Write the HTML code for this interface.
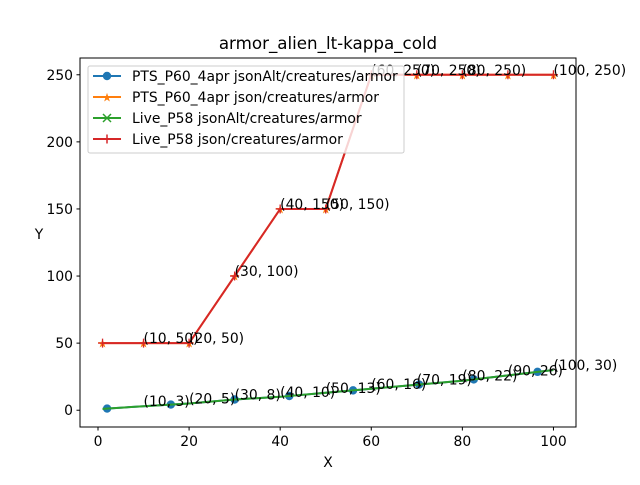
<!DOCTYPE html>
<html><head><meta charset="utf-8"><style>
body{margin:0;background:#fff;}
svg text{font-family:"DejaVu Sans","Liberation Sans",sans-serif;}
</style></head><body>
<svg id="c" width="640" height="480" xmlns="http://www.w3.org/2000/svg">
<rect width="640" height="480" fill="#fff"/>
<text x="328" y="49" font-size="16.7" text-anchor="middle">armor_alien_lt-kappa_cold</text>
<g id="plot"></g>
<rect x="80" y="58" width="496" height="369" fill="none" stroke="#000" stroke-width="1"/>
<text x="328" y="467" font-size="13.9" text-anchor="middle">X</text>
<text x="39" y="239" font-size="13.9" text-anchor="middle">Y</text>
<g>
<rect x="88" y="66" width="316" height="87" rx="2" fill="#fff" fill-opacity="0.8" stroke="#ccc"/>
<g><line x1="93" y1="76" x2="121" y2="76" stroke="#1f77b4" stroke-width="2"/><circle cx="107" cy="76" r="4.2" fill="#1f77b4"/><text x="132" y="81" font-size="13.9">PTS_P60_4apr jsonAlt/creatures/armor</text></g>
<g><line x1="93" y1="97" x2="121" y2="97" stroke="#ff7f0e" stroke-width="2"/><text x="107" y="101.5" font-size="12" fill="#ff7f0e" text-anchor="middle">★</text><text x="132" y="102" font-size="13.9">PTS_P60_4apr json/creatures/armor</text></g>
<g><line x1="93" y1="118" x2="121" y2="118" stroke="#2ca02c" stroke-width="2"/><path d="M103 114l8 8M111 114l-8 8" stroke="#2ca02c" stroke-width="1.5"/><text x="132" y="123" font-size="13.9">Live_P58 jsonAlt/creatures/armor</text></g>
<g><line x1="93" y1="139" x2="121" y2="139" stroke="#d62728" stroke-width="2"/><path d="M107 134.5v9M102.5 139h9" stroke="#d62728" stroke-width="1.5"/><text x="132" y="144" font-size="13.9">Live_P58 json/creatures/armor</text></g>
</g>
</svg>
<script>
const lowX=[1,10,20,30,40,50,60,70,80,90,100];
const lowY=[1,3,5,8,10,13,16,19,22,26,30];
const lowMarkX=[2,16,30,42,56,70.5,82.5,96.5];
const highX=[1,10,20,30,40,50,60,70,80,90,100];
const highY=[50,50,50,100,150,150,250,250,250,250,250];
const highLabelX=[10,20,30,40,50,60,70,80,100];
const xTicks=[0,20,40,60,80,100];
const yTicks=[0,50,100,150,200,250];
const X0=80,W=496,Y0=58,H=369,xmin=-3.95,xmax=104.95,ymin=-12.5,ymax=262.5;
const sx=v=>X0+(v-xmin)/(xmax-xmin)*W;
const sy=v=>Y0+H-(v-ymin)/(ymax-ymin)*H;
const NS="http://www.w3.org/2000/svg";
const svg=document.getElementById('c'),g=document.getElementById('plot');
function mk(t,a,p){const e=document.createElementNS(NS,t);for(const k in a)e.setAttribute(k,a[k]);(p||g).appendChild(e);return e;}
function interp(xs,ys,x){for(let i=0;i<xs.length-1;i++){if(x>=xs[i]&&x<=xs[i+1])return ys[i]+(ys[i+1]-ys[i])*(x-xs[i])/(xs[i+1]-xs[i]);}return ys[ys.length-1];}
xTicks.forEach(v=>{
 const l=mk('line',{x1:sx(v),x2:sx(v),y1:427,y2:430.5,stroke:'#000'},svg);
 
 
 const t=mk('text',{x:sx(v),y:446,'font-size':13.9,'text-anchor':'middle'},svg);t.textContent=v;
 
 
});
yTicks.forEach(v=>{
 const l=mk('line',{x1:76.5,x2:80,y1:sy(v),y2:sy(v),stroke:'#000'},svg);
 
 
 const t=mk('text',{x:73,y:sy(v)+5,'font-size':13.9,'text-anchor':'end'},svg);t.textContent=v;
 
 
});
const pts=(xs,ys)=>xs.map((x,i)=>sx(x)+','+sy(ys[i])).join(' ');
let e=mk('polyline',{points:pts(lowX,lowY),fill:'none',stroke:'#1f77b4','stroke-width':2});


lowMarkX.forEach(x=>{const c=mk('circle',{cx:sx(x),cy:sy(interp(lowX,lowY,x)),r:4.2,fill:'#1f77b4'});
 
 });
e=mk('polyline',{points:pts(lowX,lowY),fill:'none',stroke:'#2ca02c','stroke-width':2});


e=mk('polyline',{points:pts(highX,highY),fill:'none',stroke:'#ff7f0e','stroke-width':2});


highX.forEach((x,i)=>{const t=mk('text',{x:sx(x),y:sy(highY[i])+4.5,'font-size':12,fill:'#ff7f0e','text-anchor':'middle'});t.textContent='★';
 
 });
e=mk('polyline',{points:pts(highX,highY),fill:'none',stroke:'#d62728','stroke-width':2});


highX.forEach((x,i)=>{const X=sx(x),Y=sy(highY[i]);const p=mk('path',{d:`M${X} ${Y-4.5}v9M${X-4.5} ${Y}h9`,stroke:'#d62728','stroke-width':1.3});
 
 });
lowX.forEach((x,i)=>{if(x<10)return;const t=mk('text',{x:sx(x),y:sy(lowY[i]),'font-size':13.9});t.textContent=`(${x}, ${lowY[i]})`;
 
 });
highLabelX.forEach(x=>{const y=interp(highX,highY,x);const t=mk('text',{x:sx(x),y:sy(y),'font-size':13.9});t.textContent=`(${x}, ${y})`;
 
 });
</script>
</body></html>
